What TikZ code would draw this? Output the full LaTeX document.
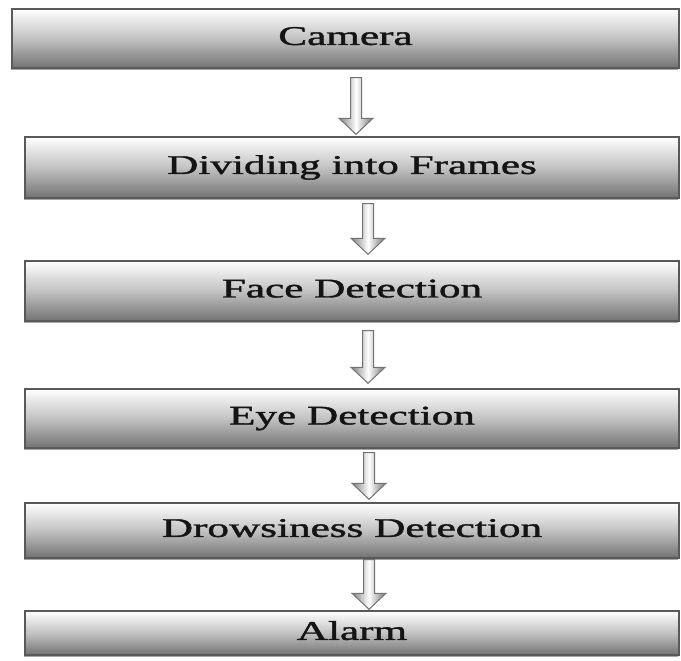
\documentclass[tikz,border=0pt]{standalone}
\usepackage{fontspec}
\usepackage{graphicx}
\setmainfont{Liberation Serif}[FakeBold=1.2]
\newfontfamily\heavyserif{Liberation Serif}[FakeBold=1.2]
\usetikzlibrary{calc,shadows}
\tikzset{
  stage/.style={rectangle, draw=black!65, line width=1.4pt,
    top color=white, bottom color=black!55, middle color=black!24,
    drop shadow={shadow xshift=-1.2pt, shadow yshift=-1.6pt, opacity=0.35, fill=black},
    text=black!92, inner sep=0pt, anchor=center,
    font=\heavyserif\fontsize{27}{30}\selectfont},
  flowarrow/.style={draw=black!55, line width=1pt, line join=miter,
    left color=black!50, right color=black!55, middle color=white}
}
\newcommand{\wide}[1]{\raisebox{5pt}{\scalebox{1.6}[1]{#1}}}
% block arrow from node #1 to node #2 at x=#3, gaps #4 (top) #5 (bottom)
\newcommand{\blockarr}[5]{%
  \path let \p1=(#1.south), \p2=(#2.north) in
    [flowarrow] ({#3pt-5.5pt},{\y1-#4pt}) -- ({#3pt+5.5pt},{\y1-#4pt})
    -- ({#3pt+5.5pt},{\y2+#5pt+16pt}) -- ({#3pt+17pt},{\y2+#5pt+16pt})
    -- ({#3pt},{\y2+#5pt}) -- ({#3pt-17pt},{\y2+#5pt+16pt})
    -- ({#3pt-5.5pt},{\y2+#5pt+16pt}) -- cycle;}
\begin{document}
\begin{tikzpicture}[x=1pt,y=-1pt]
\useasboundingbox[fill=white] (0,0) rectangle (681,661);
\node[stage, minimum width=667pt, minimum height=59pt] (cam) at (345.5,38.5) {\wide{Camera}};
\node[stage, minimum width=654pt, minimum height=61pt] (div) at (352,167.5) {\wide{Dividing into Frames}};
\node[stage, minimum width=654pt, minimum height=60pt] (face) at (352,291) {\wide{Face Detection}};
\node[stage, minimum width=654pt, minimum height=59pt] (eye) at (352,418.5) {\wide{Eye Detection}};
\node[stage, minimum width=654pt, minimum height=55pt] (drow) at (352,530.5) {\wide{Drowsiness Detection}};
\node[stage, minimum width=654pt, minimum height=44pt] (alarm) at (352,633) {\raisebox{-3pt}{\wide{Alarm}}};
\blockarr{cam}{div}{356}{9}{2}
\blockarr{div}{face}{368}{5}{6}
\blockarr{face}{eye}{368}{9}{5}
\blockarr{eye}{drow}{369}{4}{3}
\blockarr{drow}{alarm}{369}{1}{1}
\end{tikzpicture}
\end{document}
